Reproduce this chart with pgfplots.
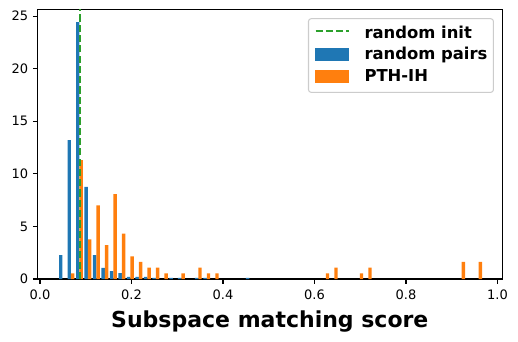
\documentclass[border=0pt]{standalone}
\usepackage{fontspec}
\setmainfont{DejaVu Sans}
\usepackage{pgfplots}
\pgfplotsset{compat=1.18}
\definecolor{tabblue}{HTML}{1F77B4}
\definecolor{taborange}{HTML}{FF7F0E}
\definecolor{tabgreen}{HTML}{2CA02C}

\begin{document}
\begin{tikzpicture}[x=1pt,y=1pt]
\useasboundingbox (0,0) rectangle (518,341);
\begin{axis}[
  at={(37.3pt,62pt)}, anchor=south west,
  scale only axis, width=465pt, height=269.7pt,
  xmin=-0.0059, xmax=1.0105, ymin=0, ymax=25.64,
  xtick={0,0.2,0.4,0.6,0.8,1.0}, ytick={0,5,10,15,20,25},
  axis line style={line width=1.04pt},
  tick style={black, line width=1.04pt},
  major tick length=4.5pt, tick align=outside, tick pos=left,
  ticklabel style={font=\fontsize{13}{15}\selectfont},
  /pgf/number format/assume math mode=true,
  xticklabel style={yshift=-3pt, /pgf/number format/.cd, fixed, fixed zerofill, precision=1},
  yticklabel style={xshift=-1pt},
  xlabel={Subspace matching score},
  xlabel style={yshift=-4pt, font=\fontsize{22}{26}\selectfont\bfseries},
  legend cell align=left,
  legend style={at={(rel axis cs:0.982,0.967)}, anchor=north east,
    draw=black!20, line width=1.04pt, rounded corners=2.6pt,
    fill=white, fill opacity=0.8, text opacity=1,
    inner xsep=6pt, inner ysep=7.4pt, row sep=6.6pt,
    nodes={inner sep=0pt, text height=11.9pt, text depth=3.3pt},
    /tikz/every odd column/.append style={column sep=15pt},
    font=\fontsize{16.4}{19}\selectfont\bfseries},
]
\addlegendimage{legend image code/.code={\draw[sharp corners, draw opacity=1, tabgreen, line width=2pt, dash pattern=on 7.2pt off 3.1pt] (0pt,2.4pt) -- (33pt,2.4pt);}}
\addlegendentry{random init}
\addlegendimage{legend image code/.code={\fill[sharp corners, fill opacity=1, tabblue] (0pt,-4.9pt) rectangle (33pt,6.8pt);}}
\addlegendentry{random pairs}
\addlegendimage{legend image code/.code={\fill[sharp corners, fill opacity=1, taborange] (0pt,-4.9pt) rectangle (33pt,6.8pt);}}
\addlegendentry{PTH-IH}

% random pairs
\addplot[ybar, bar width=0.00743, bar shift=0pt, fill=tabblue, draw=none, forget plot] coordinates {
(0.04527,2.26) (0.06384,13.2) (0.08241,24.42) (0.10098,8.75) (0.11955,2.26)
(0.13812,1.05) (0.15669,0.75) (0.17526,0.55) (0.19383,0.2) (0.2124,0.2)
(0.23097,0.2) (0.24954,0.1) (0.28668,0.1) (0.30525,0.1) (0.34239,0.1)
(0.36096,0.1) (0.45381,0.1)};
% PTH-IH
\addplot[ybar, bar width=0.00743, bar shift=0pt, fill=taborange, draw=none, forget plot] coordinates {
(0.07127,0.54) (0.08984,11.31) (0.10841,3.77) (0.12698,7.00) (0.14555,3.23)
(0.16412,8.08) (0.18269,4.31) (0.20126,2.15) (0.21983,1.62) (0.2384,1.08)
(0.25697,1.08) (0.27554,0.54) (0.31268,0.54) (0.34982,1.08) (0.36839,0.54)
(0.38696,0.54) (0.62837,0.54) (0.64694,1.08) (0.70265,0.54) (0.72122,1.08)
(0.92549,1.62) (0.96263,1.62)};
% random init
\addplot[tabgreen, line width=2pt, dash pattern=on 7.2pt off 3.1pt, forget plot] coordinates {(0.0874,0) (0.0874,25.64)};
\end{axis}
\end{tikzpicture}
\end{document}
